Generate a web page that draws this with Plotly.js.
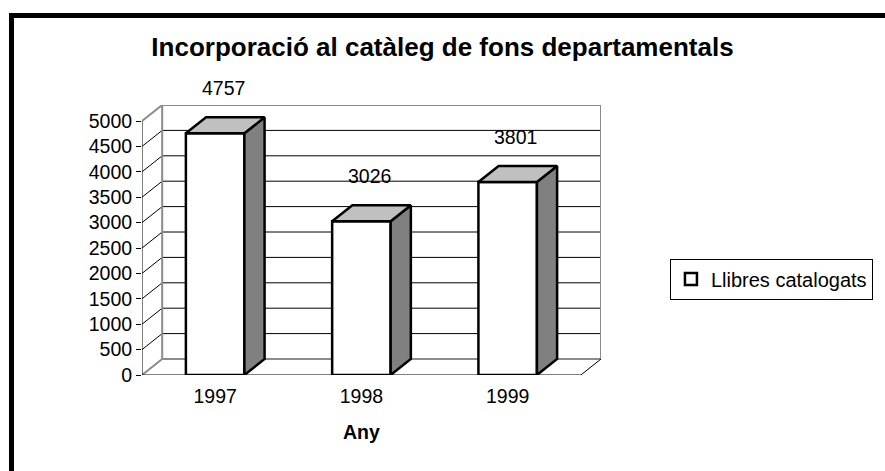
<!DOCTYPE html>
<html>
<head>
<meta charset="utf-8">
<script src="https://cdn.plot.ly/plotly-3.0.1.min.js"></script>
<style>html,body{margin:0;padding:0;background:#fff;}#chart{width:885px;height:471px;}</style>
</head>
<body>
<div id="chart"></div>
<script>
// ---- data ----
const categories = ['1997', '1998', '1999'];
const books = [4757, 3026, 3801];
const seriesName = 'Llibres catalogats';
const yTicks = [0, 500, 1000, 1500, 2000, 2500, 3000, 3500, 4000, 4500, 5000];
const chartTitle = 'Incorporació al catàleg de fons departamentals';
const xTitle = 'Any';

// ---- geometry / style ----
const W = 885, H = 471;
const M = {l: 142, r: 277, t: 105, b: 96};
const plotW = W - M.l - M.r, plotH = H - M.t - M.b;
const depthPxX = 20.5, depthPxY = 16;
const yMax = yTicks[yTicks.length - 1];
const nCat = categories.length;
const DX = depthPxX * nCat / (plotW - depthPxX);
const DY = depthPxY * yMax / (plotH - depthPxY);
const xLo = -0.5, xHi = nCat - 0.5;
const barW = 0.4;
const FONT = 'Liberation Sans, Arial, sans-serif';
const gray = '#8c8c8c';
const px2paperX = p => (p - M.l) / plotW;
const px2paperY = p => (H - M.b - p) / plotH;
const xs = categories.map((c, i) => i);

const traces = [];
traces.push({
  type: 'bar', x: xs, y: books, width: barW, name: seriesName,
  marker: {color: '#ffffff', line: {color: '#000', width: 2.5}},
  hoverinfo: 'skip', showlegend: true
});
books.forEach((v, i) => {
  const l = i - barW / 2, r = i + barW / 2;
  traces.push({ // side face
    type: 'scatter', mode: 'lines', fill: 'toself', fillcolor: '#808080',
    x: [r, r + DX, r + DX, r, r], y: [0, DY, v + DY, v, 0],
    line: {color: '#000', width: 2.5}, hoverinfo: 'skip', showlegend: false
  });
  traces.push({ // top face
    type: 'scatter', mode: 'lines', fill: 'toself', fillcolor: '#c0c0c0',
    x: [l, l + DX, r + DX, r, l], y: [v, v + DY, v + DY, v, v],
    line: {color: '#000', width: 2.5}, hoverinfo: 'skip', showlegend: false
  });
});

const shapes = [];
// gridlines (side wall diagonal + back wall)
yTicks.slice(1, -1).forEach(v => {
  shapes.push({type: 'path', layer: 'below', xref: 'x', yref: 'y',
    path: `M ${xLo},${v} L ${xLo + DX},${v + DY} L ${xHi + DX},${v + DY}`,
    line: {color: '#000', width: 1}});
});
// wall outline
shapes.push({type: 'path', layer: 'below', xref: 'x', yref: 'y',
  path: `M ${xLo},0 L ${xLo + DX},${DY} L ${xHi + DX},${DY} L ${xHi + DX},${yMax + DY} L ${xLo + DX},${yMax + DY} L ${xLo},${yMax} M ${xLo + DX},${DY} L ${xLo + DX},${yMax + DY}`,
  line: {color: gray, width: 2}});
// front value axis
shapes.push({type: 'line', layer: 'below', xref: 'x', yref: 'y', x0: xLo, x1: xLo, y0: 0, y1: yMax,
  line: {color: '#000', width: 1}});
// floor front edge + right diagonal
shapes.push({type: 'path', layer: 'below', xref: 'x', yref: 'y',
  path: `M ${xLo},0 L ${xHi},0 L ${xHi + DX},${DY}`, line: {color: '#000', width: 1}});
// category boundary ticks
for (let k = 0; k <= nCat; k++) {
  shapes.push({type: 'line', xref: 'x', yref: 'y', ysizemode: 'pixel', yanchor: 0,
    x0: xLo + k, x1: xLo + k, y0: 0, y1: -5, line: {color: '#000', width: 1}});
}
// outer chart frame
shapes.push({type: 'rect', xref: 'paper', yref: 'paper',
  x0: px2paperX(9.5), x1: px2paperX(W + 20), y0: px2paperY(H + 20), y1: px2paperY(15.5),
  line: {color: '#000', width: 5}, fillcolor: 'rgba(0,0,0,0)'});

const annotations = books.map((v, i) => ({
  x: i + DX * 0.4, y: v + DY, xref: 'x', yref: 'y', text: String(v),
  showarrow: false, yanchor: 'bottom', yshift: 16,
  font: {family: FONT, size: 19.5, color: '#000'}
}));
annotations.push({x: 1, xref: 'x', y: px2paperY(432), yref: 'paper', text: xTitle,
  showarrow: false, yanchor: 'middle', font: {family: FONT, size: 19.5, color: '#000', weight: 'bold'}});

const layout = {
  width: W, height: H, margin: M,
  paper_bgcolor: '#fff', plot_bgcolor: '#fff',
  title: {text: chartTitle, x: 0.5, xref: 'container', xanchor: 'center',
    y: 1 - 47 / H, yref: 'container', yanchor: 'middle',
    font: {family: FONT, size: 26, color: '#000', weight: 'bold'}},
  xaxis: {range: [xLo, xHi + DX], tickvals: xs, ticktext: categories,
    ticks: 'outside', ticklen: 4, tickcolor: 'rgba(0,0,0,0)',
    showgrid: false, zeroline: false, showline: false, fixedrange: true,
    tickfont: {family: FONT, size: 19.5, color: '#000'}},
  yaxis: {range: [0, yMax + DY], tickvals: yTicks, ticktext: yTicks.map(String),
    ticks: 'outside', ticklen: 5, tickcolor: '#000', tickwidth: 1,
    showgrid: false, zeroline: false, showline: false, fixedrange: true,
    tickfont: {family: FONT, size: 19.5, color: '#000'}},
  showlegend: true,
  legend: {x: px2paperX(678), xanchor: 'left', y: px2paperY(279), yanchor: 'middle',
    bordercolor: '#000', borderwidth: 1, bgcolor: '#fff',
    font: {family: FONT, size: 20, color: '#000'}},
  shapes: shapes, annotations: annotations, bargap: 0
};
Plotly.newPlot('chart', traces, layout, {staticPlot: true, displayModeBar: false});
</script>
</body>
</html>
